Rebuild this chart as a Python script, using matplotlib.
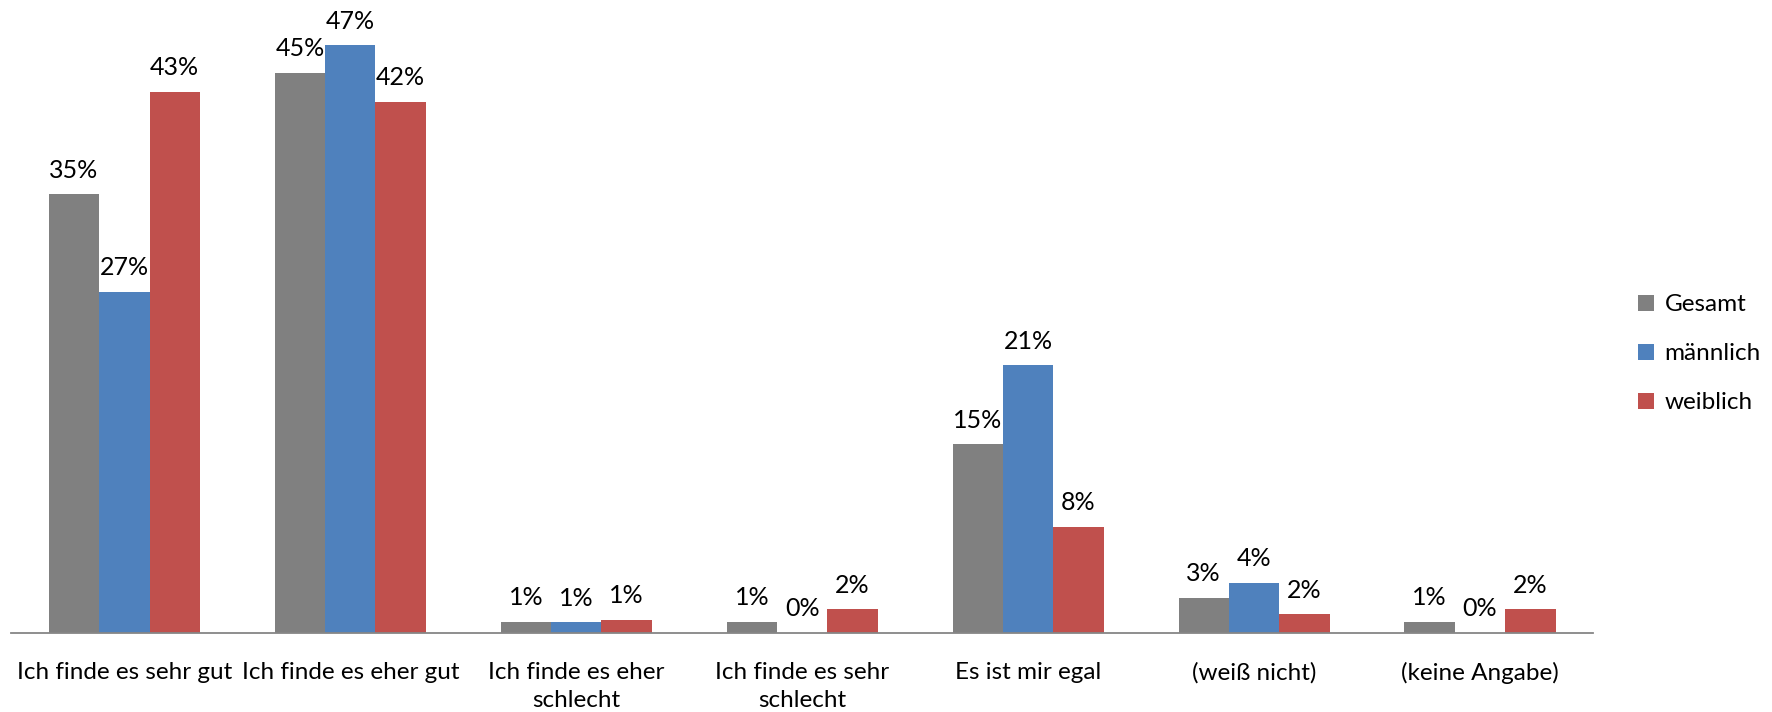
import matplotlib.pyplot as plt
import numpy as np

# Daten
kategorien = ["Ich finde es sehr gut", "Ich finde es eher gut", "Ich finde es eher\nschlecht",
              "Ich finde es sehr\nschlecht", "Es ist mir egal", "(weiß nicht)", "(keine Angabe)"]
gesamt = [35.1, 44.8, 0.9, 0.9, 15.1, 2.8, 0.9]
maennlich = [27.3, 47.0, 0.85, 0.0, 21.4, 4.0, 0.0]
weiblich = [43.3, 42.5, 1.04, 1.9, 8.5, 1.5, 1.9]
serien = ["Gesamt", "männlich", "weiblich"]
farben = ["#808080", "#4F81BD", "#C0504D"]

plt.rcParams['font.family'] = ['Lato', 'DejaVu Sans']

fig = plt.figure(figsize=(17.72, 7.12), dpi=100)
ax = fig.add_axes([0.0064, 0.111, 0.8926, 0.878])

x = np.arange(len(kategorien))
breite = 0.223
for i, (werte, name, farbe) in enumerate(zip([gesamt, maennlich, weiblich], serien, farben)):
    pos = x + (i - 1) * breite
    bars = ax.bar(pos, werte, breite, color=farbe, label=name)
    for xp, v in zip(pos, werte):
        ax.text(xp, v + 1.0, "{:.0f}%".format(v), ha='center', va='bottom', fontsize=18)

ax.set_xlim(-0.5, len(kategorien) - 0.5)
ax.set_ylim(0, 50)
ax.set_xticks(x)
ax.set_xticklabels(kategorien, fontsize=17.5, linespacing=1.4)
ax.tick_params(axis='x', length=0, pad=21)
ax.set_yticks([])
for s in ['top', 'right', 'left']:
    ax.spines[s].set_visible(False)
ax.spines['bottom'].set_color('#868686')
ax.spines['bottom'].set_linewidth(1.3)

ax.legend(loc='center left', bbox_to_anchor=(0.912, 0.503), bbox_transform=fig.transFigure,
          frameon=False, fontsize=17.5, handlelength=0.65, handleheight=0.65,
          handletextpad=0.45, labelspacing=1.15)

plt.savefig("out.png", dpi=100)
